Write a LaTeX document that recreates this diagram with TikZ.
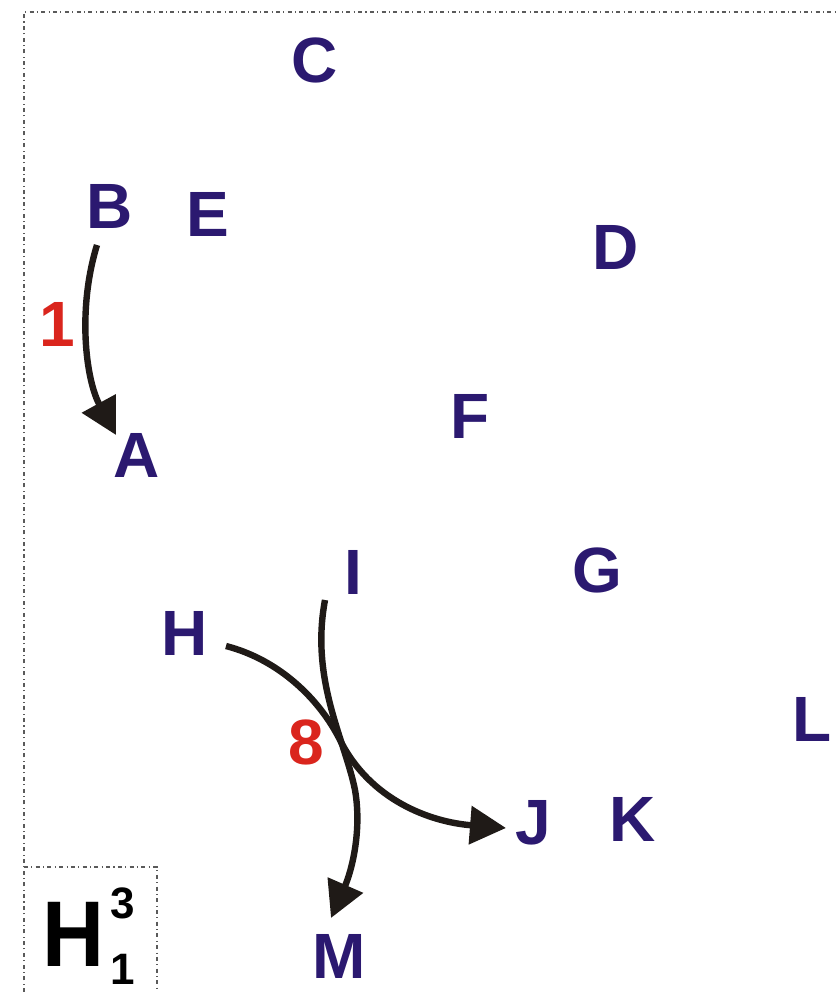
\documentclass[tikz,border=0pt]{standalone}
\usepackage{fontspec}
\setmainfont{Liberation Sans}
\usetikzlibrary{arrows.meta}
\definecolor{lblue}{RGB}{43,25,112}
\definecolor{lred}{RGB}{218,37,29}
\definecolor{arrblack}{RGB}{31,26,23}
\definecolor{framegray}{RGB}{90,90,90}
\tikzset{
  atom/.style={text=lblue, font=\fontsize{48}{48}\selectfont\bfseries, inner sep=0pt, anchor=center},
  num/.style={text=lred, font=\fontsize{48}{48}\selectfont\bfseries, inner sep=0pt, anchor=center},
  idx/.style={text=black, font=\fontsize{33}{33}\selectfont\bfseries, inner sep=0pt, anchor=center},
  conn/.style={draw=arrblack, line width=4.8pt, -{Triangle[length=27pt,width=28pt]}},
  frameline/.style={draw=framegray, line width=0.8pt, dash pattern=on 3pt off 2.5pt on 0.8pt off 2.5pt}
}
\begin{document}
\begin{tikzpicture}[x=0.75pt,y=-0.75pt]
\useasboundingbox (0,0) rectangle (839,992);
% frame
\draw[frameline] (24,992) -- (24,12) -- (839,12);
\draw[frameline] (24,867) -- (157,867) -- (157,992);
% letters
\node[atom] (C) at (315,60) {C};
\node[atom] (B) at (110,206) {B};
\node[atom] (E) at (208,214) {E};
\node[atom] (D) at (616,247) {D};
\node[atom] (F) at (470,416) {F};
\node[atom] (A) at (137,455) {A};
\node[atom] (G) at (597,570) {G};
\node[atom] (I) at (353,572) {I};
\node[atom] (H) at (185,633) {H};
\node[atom] (L) at (812,719) {L};
\node[atom] (J) at (533,823) {J};
\node[atom] (K) at (633,819) {K};
\node[atom] (M) at (339,956) {M};
\node[num] (n1) at (57,324) {1};
\node[num] (n8) at (306,742) {8};
% label box
\node[inner sep=0pt, font=\fontsize{70}{70}\selectfont\bfseries, text=black, xscale=0.92, transform shape] (Hbig) at (74,934) {H};
\node[idx] (sup3) at (123,903) {3};
\node[idx] (sub1) at (123,969) {1};
% connector anchors
\coordinate (bs) at (97,245);
\coordinate (ae) at (116,435);
\coordinate (hs) at (226,646);
\coordinate (je) at (506,828);
\coordinate (is) at (325,600);
\coordinate (me) at (331,918);
\draw[conn] (bs) .. controls (77,310) and (86,380) .. (ae);
\draw[conn] (hs) .. controls (280,660) and (320,700) .. (340,740) .. controls (370,800) and (430,822) .. (je);
\draw[conn] (is) .. controls (310,680) and (345,740) .. (355,790) .. controls (362,830) and (352,870) .. (me);
\end{tikzpicture}
\end{document}
